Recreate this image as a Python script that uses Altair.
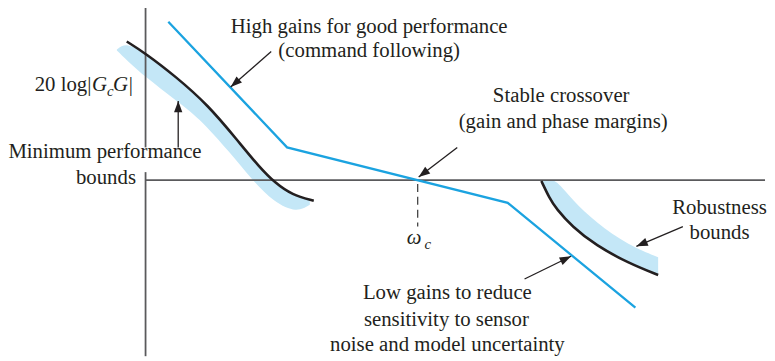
import altair as alt
import pandas as pd
import numpy as np

# ---------------- data (in picture pixels) ----------------
# compensated loop gain |GcG| (blue broken line)
gain_x = [170, 290, 513, 642]
gain_y = [20, 147, 203, 309]

# minimum performance bound (black curve) and its shaded band
perf_x = [128, 147, 177, 210, 240, 262, 278, 295, 317]
perf_y = [40, 52, 75, 104, 140, 167, 183, 195, 201]
perf_band_x = [118, 128, 147, 177, 200, 233, 253, 277, 300, 313]
perf_band_top = [48, 41, 52, 76, 95, 131, 156, 183, 197, 200]
perf_band_bot = [49, 59, 76, 99, 116, 153, 178, 203, 213, 205]

# robustness bound (black curve) and its shaded band
rob_x = [547, 555, 562, 578, 602, 635, 665]
rob_y = [181, 198, 209, 227, 246, 264, 276]
rob_band_top = [180, 180, 180, 200, 223, 246, 258]

# axes (two pieces of the vertical axis, one horizontal)
axis_x1 = [147, 147, 147]
axis_y1 = [4, 172, 180]
axis_x2 = [147, 147, 773]
axis_y2 = [147, 358, 180]

# crossover frequency marker
wc_x = [422]
wc_y1 = [184]
wc_y2 = [227]

# annotation arrows: tail -> head
arr_x0 = [274, 180, 462, 690, 530]
arr_y0 = [50, 147, 147, 227, 280]
arr_x1 = [233, 180, 423, 643, 577]
arr_y1 = [86, 100, 177, 247, 257]

# roman, centred labels (text, centre x, baseline y)
lab_text = ["High gains for good performance", "(command following)",
            "Minimum performance", "bounds",
            "Stable crossover", "(gain and phase margins)",
            "Robustness", "bounds",
            "Low gains to reduce", "sensitivity to sensor",
            "noise and model uncertainty"]
lab_x = [373, 373, 106, 107, 567, 569, 727, 727, 452, 451, 452]
lab_y = [31, 56, 158, 184, 101, 127, 214, 240, 300, 327, 353]

# y-axis label pieces: 20 log|GcG|
ylab_text = ["20 log|", "G", "c", "G", "|"]
ylab_x = [35, 93, 108, 114, 130]
ylab_y = [90, 90, 95, 90, 90]
ylab_size = [21, 21, 15, 21, 21]
ylab_style = ["normal", "italic", "italic", "italic", "normal"]

# omega_c label pieces
wlab_text = ["ω", "c"]
wlab_x = [411, 429]
wlab_y = [245, 250]
wlab_size = [21, 15]

# ---------------- styling ----------------
BLUE = "#1ba3e0"
BAND = "#c4e7f7"
INK = "#231f20"
GREY = "#5a5a5c"
FONT = "Times New Roman, Liberation Serif, DejaVu Serif, serif"

xs = alt.Scale(domain=[8, 775], nice=False, zero=False)
ys = alt.Scale(domain=[8, 361], reverse=True, nice=False, zero=False)


def X(f):
    return alt.X(f, type="quantitative", scale=xs, axis=None)


def Y(f):
    return alt.Y(f, type="quantitative", scale=ys, axis=None)


gain_df = pd.DataFrame({"x": gain_x, "y": gain_y, "i": range(len(gain_x))})
perf_df = pd.DataFrame({"x": perf_x, "y": perf_y})
perf_band_df = pd.DataFrame({"x": perf_band_x, "top": perf_band_top, "bot": perf_band_bot})
rob_df = pd.DataFrame({"x": rob_x, "y": rob_y, "top": rob_band_top})
axis_df = pd.DataFrame({"x": axis_x1, "y": axis_y1, "x2": axis_x2, "y2": axis_y2})
wc_df = pd.DataFrame({"x": wc_x, "y": wc_y1, "y2": wc_y2})
arr_df = pd.DataFrame({"x": arr_x0, "y": arr_y0, "x2": arr_x1, "y2": arr_y1})
arr_df["ang"] = (np.degrees(np.arctan2(arr_df["x2"] - arr_df["x"],
                                       -(arr_df["y2"] - arr_df["y"]))) + 360) % 360
lab_df = pd.DataFrame({"t": lab_text, "x": lab_x, "y": lab_y})
ylab_df = pd.DataFrame({"t": ylab_text, "x": ylab_x, "y": ylab_y,
                        "s": ylab_size, "st": ylab_style})
wlab_df = pd.DataFrame({"t": wlab_text, "x": wlab_x, "y": wlab_y, "s": wlab_size})

layers = []

# shaded bands
layers.append(alt.Chart(perf_band_df).mark_area(color=BAND, interpolate="basis").encode(
    x=X("x"), y=Y("top"), y2="bot"))
layers.append(alt.Chart(rob_df).mark_area(color=BAND, interpolate="basis").encode(
    x=X("x"), y=Y("top"), y2="y"))

# axes
layers.append(alt.Chart(axis_df).mark_rule(color=GREY, strokeWidth=1.8).encode(
    x=X("x"), y=Y("y"), x2="x2", y2="y2"))

# crossover dashed marker
layers.append(alt.Chart(wc_df).mark_rule(color="#444", strokeWidth=1.3, strokeDash=[8, 5]).encode(
    x=X("x"), y=Y("y"), y2="y2"))

# bound curves
layers.append(alt.Chart(perf_df).mark_line(color=INK, strokeWidth=2.6, interpolate="basis").encode(
    x=X("x"), y=Y("y")))
layers.append(alt.Chart(rob_df).mark_line(color=INK, strokeWidth=2.6, interpolate="basis").encode(
    x=X("x"), y=Y("y")))

# loop gain
layers.append(alt.Chart(gain_df).mark_line(color=BLUE, strokeWidth=2.3).encode(
    x=X("x"), y=Y("y"), order="i"))

# arrows
layers.append(alt.Chart(arr_df).mark_rule(color=INK, strokeWidth=1.3).encode(
    x=X("x"), y=Y("y"), x2="x2", y2="y2"))
layers.append(alt.Chart(arr_df).mark_point(
    shape="M0,0L-0.8,2.2L0.8,2.2Z", filled=True, size=110, color=INK, opacity=1, strokeWidth=0
).encode(x=X("x2"), y=Y("y2"), angle=alt.Angle("ang:Q", scale=None)))

# labels
layers.append(alt.Chart(lab_df).mark_text(
    font=FONT, fontSize=21, align="center", baseline="alphabetic", color=INK
).encode(x=X("x"), y=Y("y"), text="t:N"))

for st in ["normal", "italic"]:
    sub = ylab_df[ylab_df["st"] == st]
    layers.append(alt.Chart(sub).mark_text(
        font=FONT, fontStyle=st, align="left", baseline="alphabetic", color=INK
    ).encode(x=X("x"), y=Y("y"), text="t:N", size=alt.Size("s:Q", scale=None)))

layers.append(alt.Chart(wlab_df).mark_text(
    font=FONT, fontStyle="italic", align="left", baseline="alphabetic", color=INK
).encode(x=X("x"), y=Y("y"), text="t:N", size=alt.Size("s:Q", scale=None)))

chart = alt.layer(*layers).properties(
    width=767, height=353,
    autosize=alt.AutoSizeParams(type="none"),
    padding=0,
    background="white",
).configure_view(stroke=None)

chart.save("out.html", embed_options={"renderer": "svg", "actions": False})
